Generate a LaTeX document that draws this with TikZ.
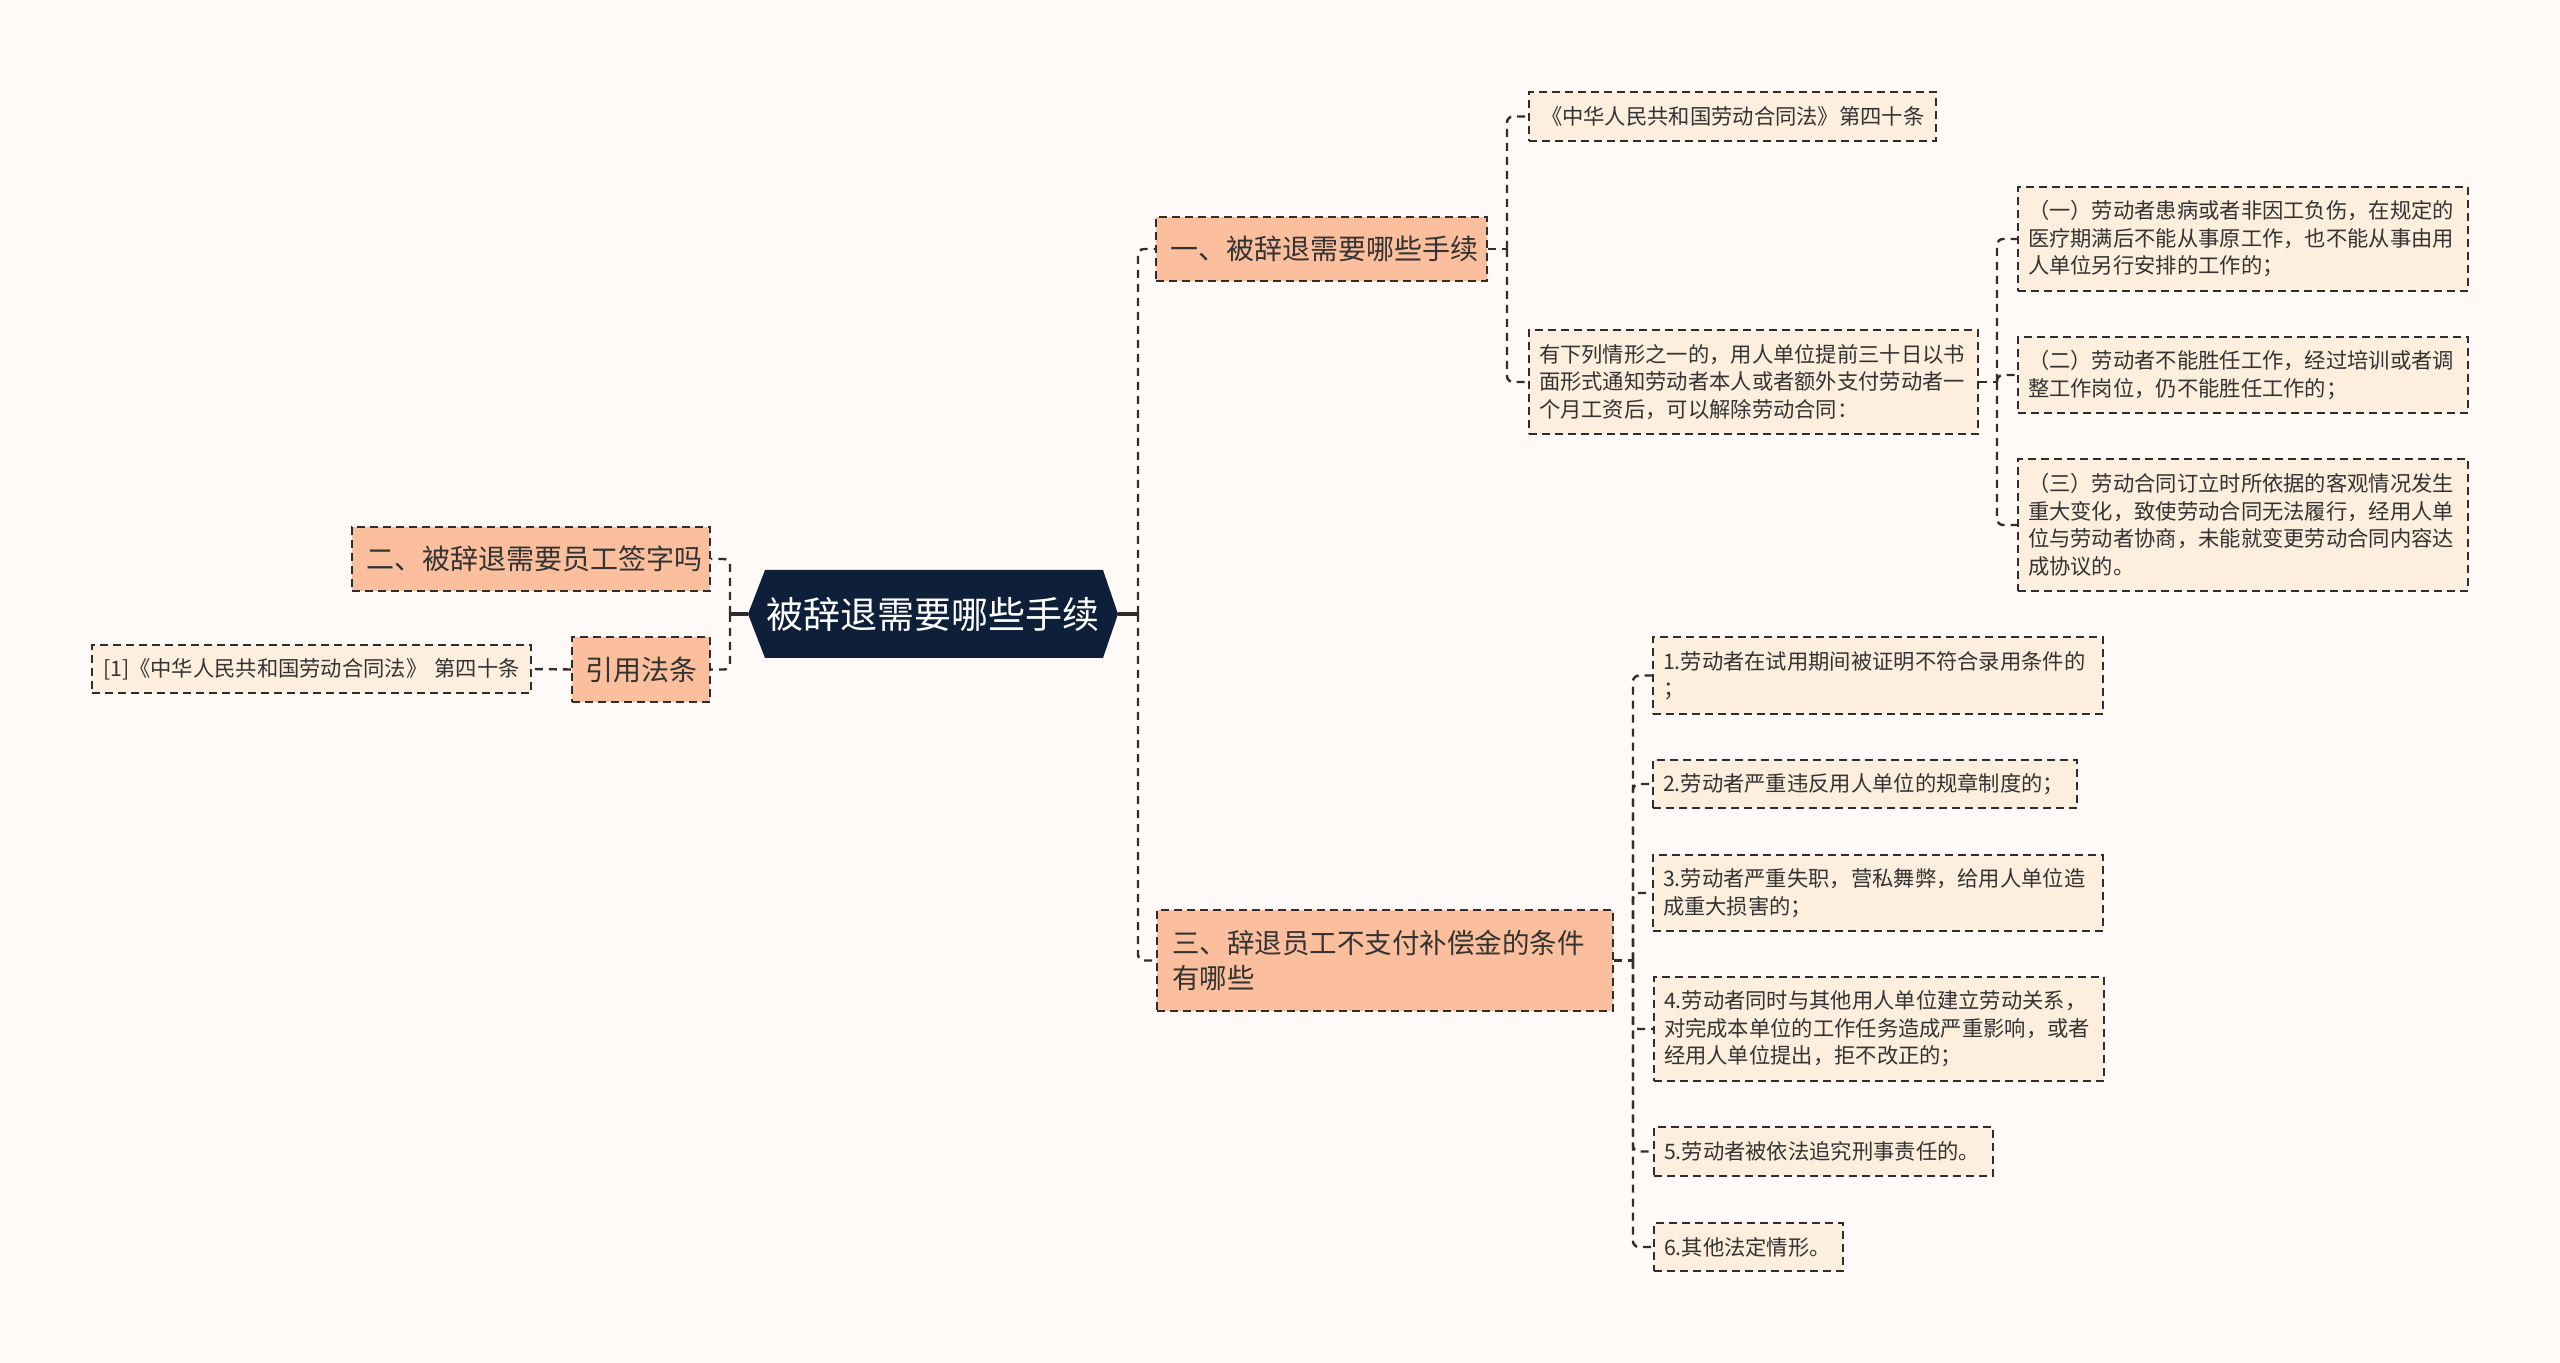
\documentclass[tikz,border=0pt]{standalone}
\usepackage{fontspec}
\setmainfont{Noto Sans CJK SC}
\definecolor{bgc}{HTML}{FFFAF8}
\definecolor{salmon}{HTML}{FBBF9E}
\definecolor{peach}{HTML}{FDEEDD}
\definecolor{navy}{HTML}{0E1F3A}
\definecolor{linec}{HTML}{2E2E2E}
\definecolor{txt}{HTML}{333333}
\tikzset{
  base/.style={draw=linec, line width=1.1pt, dash pattern=on 4pt off 2.5pt, text=txt, anchor=center, inner ysep=0pt, align=left},
  sbox/.style={base, fill=peach, font=\fontsize{10.65pt}{13.75pt}\selectfont, inner xsep=5pt},
  bbox/.style={base, fill=salmon, font=\fontsize{14pt}{17.5pt}\selectfont, inner xsep=7pt},
  conn/.style={draw=linec, line width=1.2pt, dash pattern=on 4pt off 3pt, rounded corners=3pt},
  rootconn/.style={draw=linec, line width=1.6pt},
}
\begin{document}
\begin{tikzpicture}[x=0.5pt,y=-0.5pt]
\useasboundingbox (0,0) rectangle (2560,1363);
\fill[bgc] (0,0) rectangle (2560,1363);

% root
\fill[navy] (748,614) -- (765,570) -- (1103,570) -- (1118,614) -- (1103,658) -- (765,658) -- cycle;
\node[text=white, font=\fontsize{18.5pt}{22pt}\selectfont, minimum width=185pt, minimum height=44pt, inner sep=0pt] (root) at (933,614) {被辞退需要哪些手续};

% level 1
\node[bbox, align=center, text width=151.5pt, minimum height=32pt] (A) at (1321.5,249) {一、被辞退需要哪些手续};
\node[bbox, align=center, text width=165pt, minimum height=32pt] (B) at (531,559) {二、被辞退需要员工签字吗};
\node[bbox, align=center, inner xsep=6pt, text width=57pt, minimum height=32.5pt] (C) at (641,669.5) {引用法条};
\node[bbox, font=\fontsize{13.75pt}{17.5pt}\selectfont, inner xsep=7.5pt, text width=213pt, minimum height=50.5pt] (D) at (1385,960.5) {三、辞退员工不支付补偿金的条件\\有哪些};

% level 2
\node[sbox, inner xsep=5.5pt, text width=208.5pt, minimum height=24pt] (C1) at (311.5,669) {[1]《中华人民共和国劳动合同法》 第四十条};
\node[sbox, inner xsep=6pt, text width=191.5pt, minimum height=24.5pt] (A1) at (1732.5,116.5) {《中华人民共和国劳动合同法》第四十条};
\node[sbox, text width=214.5pt, minimum height=52pt] (A2) at (1753.5,382) {有下列情形之一的，用人单位提前三十日以书\\面形式通知劳动者本人或者额外支付劳动者一\\个月工资后，可以解除劳动合同：};

\node[sbox, text width=215pt, minimum height=52pt] (A21) at (2243,239) {（一）劳动者患病或者非因工负伤，在规定的\\医疗期满后不能从事原工作，也不能从事由用\\人单位另行安排的工作的；};
\node[sbox, text width=215pt, minimum height=38pt] (A22) at (2243,375) {（二）劳动者不能胜任工作，经过培训或者调\\整工作岗位，仍不能胜任工作的；};
\node[sbox, text width=215pt, minimum height=66pt] (A23) at (2243,525) {（三）劳动合同订立时所依据的客观情况发生\\重大变化，致使劳动合同无法履行，经用人单\\位与劳动者协商，未能就变更劳动合同内容达\\成协议的。};

\node[sbox, text width=215pt, minimum height=38.5pt] (D1) at (1878,675.5) {1.劳动者在试用期间被证明不符合录用条件的\\；};
\node[sbox, text width=202pt, minimum height=24pt] (D2) at (1865,784) {2.劳动者严重违反用人单位的规章制度的；};
\node[sbox, text width=215pt, minimum height=38pt] (D3) at (1878,893) {3.劳动者严重失职，营私舞弊，给用人单位造\\成重大损害的；};
\node[sbox, text width=215pt, minimum height=52pt] (D4) at (1879,1029) {4.劳动者同时与其他用人单位建立劳动关系，\\对完成本单位的工作任务造成严重影响，或者\\经用人单位提出，拒不改正的；};
\node[sbox, text width=159.5pt, minimum height=24.5pt] (D5) at (1823.5,1151.5) {5.劳动者被依法追究刑事责任的。};
\node[sbox, text width=84.5pt, minimum height=24pt] (D6) at (1748.5,1247) {6.其他法定情形。};

% spine coordinates
\coordinate (sR) at (1138,614);
\coordinate (sL) at (730,614);
\coordinate (sA) at (1507,249);
\coordinate (sA2) at (1997,382);
\coordinate (sD) at (1633,960.5);

% connectors
\draw[rootconn] (root.east) -- (sR);
\draw[rootconn] (root.west) -- (sL);
\draw[conn] (sR) |- (A.west);
\draw[conn] (sR) |- (D.west);
\draw[conn] (sL) |- (B.east);
\draw[conn] (sL) |- (C.east);
\draw[conn] (C.west) -- (C1.east);

\draw[conn] (A.east) -- (sA);
\draw[conn] (sA) |- (A1.west);
\draw[conn] (sA) |- (A2.west);

\draw[conn] (A2.east) -- (sA2);
\draw[conn] (sA2) |- (A21.west);
\draw[conn] (sA2) |- (A22.west);
\draw[conn] (sA2) |- (A23.west);

\draw[conn] (D.east) -- (sD);
\draw[conn] (sD) |- (D1.west);
\draw[conn] (sD) |- (D2.west);
\draw[conn] (sD) |- (D3.west);
\draw[conn] (sD) |- (D4.west);
\draw[conn] (sD) |- (D5.west);
\draw[conn] (sD) |- (D6.west);
\end{tikzpicture}
\end{document}
